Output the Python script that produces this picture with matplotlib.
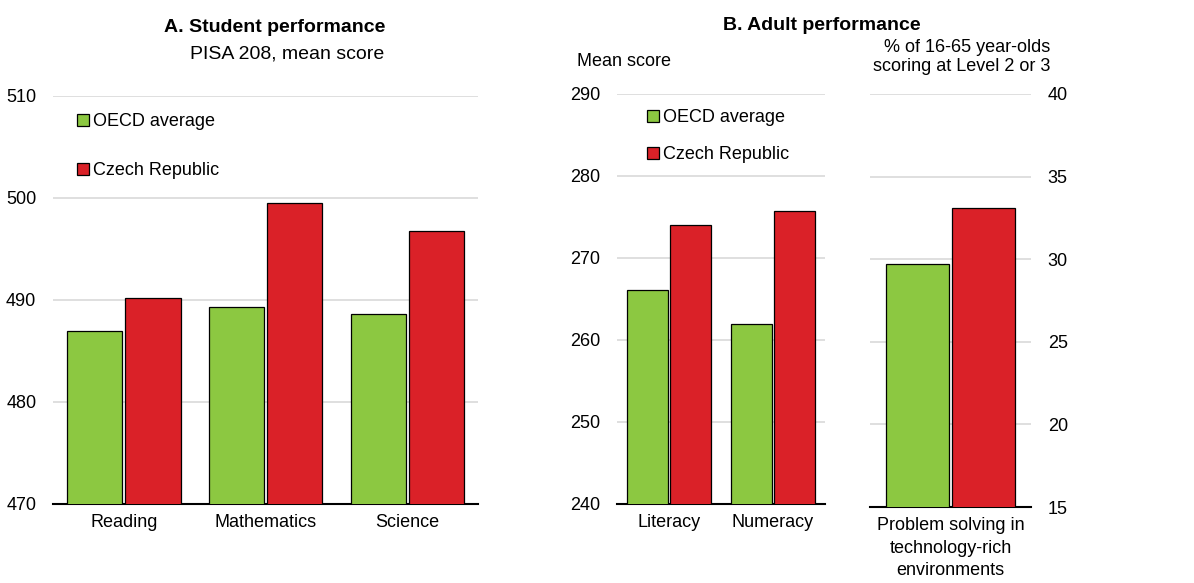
import numpy as np
import matplotlib.pyplot as plt
from matplotlib.patches import Patch

# data
pisa_subjects = ["Reading", "Mathematics", "Science"]
pisa_oecd = [487.0, 489.3, 488.6]
pisa_cze = [490.2, 499.5, 496.8]

piaac_skills = ["Literacy", "Numeracy"]
piaac_oecd = [266.1, 261.9]
piaac_cze = [274.0, 275.7]

ps_label = ["Problem solving in\ntechnology-rich\nenvironments"]
ps_oecd = [29.7]
ps_cze = [33.1]

series_names = ["OECD average", "Czech Republic"]
green = "#8cc841"
red = "#da2128"

plt.rcParams['font.family'] = ['Liberation Sans Narrow', 'Liberation Sans', 'DejaVu Sans']
fs = 13

fig = plt.figure(figsize=(11.94, 5.83), dpi=100)
W, H = 1194, 583


def px_axes(x0, x1, ytop, ybot):
	return fig.add_axes([x0 / W, 1 - ybot / H, (x1 - x0) / W, (ybot - ytop) / H])


def bars(ax, labels, a, b, ylim, step, right=False):
	x = np.arange(len(labels))
	w = 0.39
	ax.bar(x - 0.205, a, w, color=green, edgecolor="black", linewidth=0.9, zorder=3)
	ax.bar(x + 0.205, b, w, color=red, edgecolor="black", linewidth=0.9, zorder=3)
	ax.set_xlim(-0.5, len(labels) - 0.5)
	ax.set_ylim(*ylim)
	ax.set_yticks(np.arange(ylim[0], ylim[1] + 0.1, step))
	ax.set_xticks(x)
	ax.set_xticklabels(labels, fontsize=fs, linespacing=1.45)
	ax.yaxis.grid(True, color="#d9d9d9", linewidth=1.2, zorder=0)
	ax.set_axisbelow(True)
	for s in ["top", "left", "right"]:
		ax.spines[s].set_visible(False)
	ax.spines["bottom"].set_linewidth(1.5)
	ax.tick_params(axis="both", length=0, labelsize=fs)
	ax.tick_params(axis="y", pad=12)
	ax.tick_params(axis="x", pad=7)
	if right:
		ax.yaxis.tick_right()
	return ax


axA = px_axes(53, 478, 96, 504)
bars(axA, pisa_subjects, pisa_oecd, pisa_cze, (470, 510), 10)

axB = px_axes(617, 825, 94, 504)
bars(axB, piaac_skills, piaac_oecd, piaac_cze, (240, 290), 10)

axC = px_axes(870, 1031, 94, 507)
bars(axC, ps_label, ps_oecd, ps_cze, (15, 40), 5, right=True)

handles = [Patch(facecolor=green, edgecolor="black", linewidth=0.9),
	Patch(facecolor=red, edgecolor="black", linewidth=0.9)]
axA.legend(handles, series_names, loc="upper left", bbox_to_anchor=(0.04, 0.975), frameon=False,
	fontsize=fs, handlelength=0.65, handleheight=0.65, handletextpad=0.25, labelspacing=1.75,
	borderaxespad=0)
axB.legend(handles, series_names, loc="upper left", bbox_to_anchor=(0.11, 0.98), frameon=False,
	fontsize=fs, handlelength=0.65, handleheight=0.65, handletextpad=0.25, labelspacing=1.1,
	borderaxespad=0)

# titles and axis notes
fig.text(275 / W, 1 - 27 / H, "A. Student performance", ha="center", va="center",
	fontsize=fs + 1, fontweight="bold")
fig.text(287 / W, 1 - 54 / H, "PISA 208, mean score", ha="center", va="center", fontsize=fs + 1)
fig.text(822 / W, 1 - 25 / H, "B. Adult performance", ha="center", va="center",
	fontsize=fs + 1, fontweight="bold")
fig.text(577 / W, 1 - 61 / H, "Mean score", ha="left", va="center", fontsize=fs)
fig.text(1050 / W, 1 - 57 / H, "% of 16-65 year-olds\nscoring at Level 2 or 3", ha="right",
	va="center", fontsize=fs, linespacing=1.15)

fig.savefig("out.png", dpi=100)
